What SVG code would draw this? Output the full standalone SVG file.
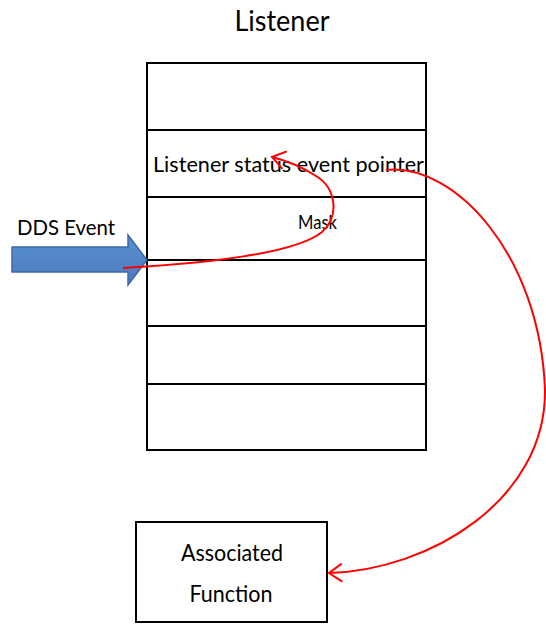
<svg xmlns="http://www.w3.org/2000/svg" width="546" height="625" viewBox="0 0 546 625">
  <defs>
    <style>
      .box { fill: #ffffff; stroke: #000000; stroke-width: 2; }
      .row { stroke: #000000; stroke-width: 2; }
      .lbl { font-family: Lato, "Open Sans", "Liberation Sans", sans-serif; fill: #000000; }
      .wire { fill: none; stroke: #ff0000; stroke-width: 2; }
    </style>
    <marker id="openHead" markerWidth="20" markerHeight="22" refX="15" refY="11" orient="auto" markerUnits="userSpaceOnUse">
      <path d="M2,2 L15,11 L2,20" fill="none" stroke="#ff0000" stroke-width="2"/>
    </marker>
    <linearGradient id="blueFill" x1="0" y1="0" x2="0" y2="1">
      <stop offset="0" stop-color="#5b8fd0"/>
      <stop offset="1" stop-color="#4a7bbd"/>
    </linearGradient>
  </defs>

  <!-- title -->
  <text class="lbl" x="282" y="31" font-size="28" text-anchor="middle" textLength="95" lengthAdjust="spacingAndGlyphs">Listener</text>

  <!-- listener table -->
  <g id="listener-table">
    <rect class="box" x="147" y="63" width="279" height="387"/>
    <line class="row" x1="147" y1="130" x2="426" y2="130"/>
    <line class="row" x1="147" y1="197" x2="426" y2="197"/>
    <line class="row" x1="147" y1="260" x2="426" y2="260"/>
    <line class="row" x1="147" y1="326" x2="426" y2="326"/>
    <line class="row" x1="147" y1="384" x2="426" y2="384"/>
  </g>
  <g id="status-pointer">
    <text class="lbl" x="153" y="172" font-size="22" textLength="271" lengthAdjust="spacingAndGlyphs">Listener status event pointer</text>
  </g>
  <g id="mask">
    <text class="lbl" x="298" y="229" font-size="19" textLength="39" lengthAdjust="spacingAndGlyphs">Mask</text>
  </g>

  <!-- incoming event arrow -->
  <g id="dds-event">
    <path d="M12,247 L128,247 L128,235 L147,260 L128,285 L128,272 L12,272 Z" fill="url(#blueFill)" stroke="#3d6aa3" stroke-width="1.5"/>
    <text class="lbl" x="17" y="235" font-size="21" textLength="98" lengthAdjust="spacingAndGlyphs">DDS Event</text>
  </g>

  <!-- associated function -->
  <g id="associated-function">
    <rect class="box" x="136" y="522" width="191" height="100"/>
    <text class="lbl" x="232" y="561" font-size="23" text-anchor="middle" textLength="102" lengthAdjust="spacingAndGlyphs">Associated</text>
    <text class="lbl" x="231" y="602" font-size="23" text-anchor="middle" textLength="83" lengthAdjust="spacingAndGlyphs">Function</text>
  </g>

  <!-- connectors -->
  <g id="connectors">
    <path class="wire" d="M123,268 C230,262 300,250 322,232 C340,216 336,188 316,176 C302,167 288,161 272,157" marker-end="url(#openHead)"/>
    <path class="wire" d="M386,170 C455,163 540,255 545,390 C546,500 430,570 329,573" marker-end="url(#openHead)"/>
  </g>
</svg>
